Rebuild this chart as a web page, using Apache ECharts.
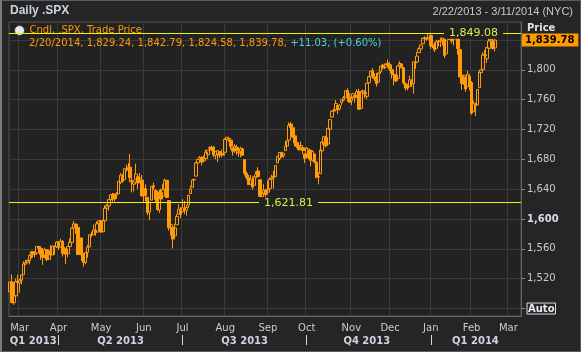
<!DOCTYPE html>
<html>
<head>
<meta charset="utf-8">
<script src="https://cdn.jsdelivr.net/npm/echarts@6/dist/echarts.min.js"></script>
<style>
  html, body { margin: 0; padding: 0; background: #252525; }
  #chart { position: absolute; left: 0; top: 0; width: 581px; height: 352px; }
  #frame { position: absolute; left: 0; top: 0; width: 581px; height: 352px; box-sizing: border-box;
           border: 1px solid #5c5c5c; border-left: 2px solid #7a7a7a; pointer-events: none; }
</style>
</head>
<body>
<div id="chart"></div>
<div id="frame"></div>
<script>
// daily bars: date, open, high, low, close
const bars = [
  ['2/22/2013',1502.42,1515.64,1502.42,1515.60],
  ['2/25/2013',1515.60,1525.84,1487.85,1487.85],
  ['2/26/2013',1487.85,1498.99,1485.01,1496.94],
  ['2/27/2013',1496.94,1520.08,1494.88,1515.99],
  ['2/28/2013',1515.99,1525.34,1514.46,1514.68],
  ['3/1/2013',1514.68,1519.99,1501.48,1518.20],
  ['3/4/2013',1518.20,1525.27,1512.29,1525.20],
  ['3/5/2013',1525.20,1543.47,1525.20,1539.79],
  ['3/6/2013',1539.79,1545.25,1538.11,1541.46],
  ['3/7/2013',1541.46,1545.78,1541.46,1544.26],
  ['3/8/2013',1544.26,1552.48,1539.19,1551.18],
  ['3/11/2013',1551.15,1556.27,1547.36,1556.22],
  ['3/12/2013',1556.22,1556.77,1548.24,1552.48],
  ['3/13/2013',1552.48,1556.39,1548.25,1554.52],
  ['3/14/2013',1554.52,1563.32,1554.52,1563.23],
  ['3/15/2013',1563.21,1563.62,1555.74,1560.70],
  ['3/18/2013',1560.70,1560.70,1545.13,1552.10],
  ['3/19/2013',1552.10,1557.25,1538.57,1548.34],
  ['3/20/2013',1548.34,1561.56,1548.34,1558.71],
  ['3/21/2013',1558.71,1558.71,1543.55,1545.80],
  ['3/22/2013',1545.90,1557.74,1545.90,1556.89],
  ['3/25/2013',1556.89,1564.91,1546.22,1551.69],
  ['3/26/2013',1551.69,1563.95,1551.69,1563.77],
  ['3/27/2013',1563.75,1564.07,1551.90,1562.85],
  ['3/28/2013',1562.86,1570.28,1561.08,1569.19],
  ['4/1/2013',1569.18,1570.57,1558.47,1562.17],
  ['4/2/2013',1562.17,1573.66,1562.17,1570.25],
  ['4/3/2013',1570.25,1571.47,1549.80,1553.69],
  ['4/4/2013',1553.69,1562.60,1552.52,1559.98],
  ['4/5/2013',1559.98,1559.98,1539.50,1553.28],
  ['4/8/2013',1553.26,1563.07,1548.63,1563.07],
  ['4/9/2013',1563.11,1573.89,1560.92,1568.61],
  ['4/10/2013',1568.61,1589.07,1568.61,1587.73],
  ['4/11/2013',1587.73,1597.35,1586.17,1593.37],
  ['4/12/2013',1593.30,1593.30,1579.97,1588.85],
  ['4/15/2013',1588.84,1588.84,1552.28,1552.36],
  ['4/16/2013',1552.36,1575.35,1552.36,1574.57],
  ['4/17/2013',1574.57,1574.57,1543.69,1552.01],
  ['4/18/2013',1552.03,1554.38,1536.03,1541.61],
  ['4/19/2013',1541.61,1555.89,1539.40,1555.25],
  ['4/22/2013',1555.25,1565.55,1548.19,1562.50],
  ['4/23/2013',1562.50,1579.58,1562.50,1578.78],
  ['4/24/2013',1578.78,1583.00,1575.80,1578.79],
  ['4/25/2013',1578.78,1592.64,1578.78,1585.16],
  ['4/26/2013',1585.16,1585.78,1577.56,1582.24],
  ['4/29/2013',1582.34,1596.65,1582.34,1593.61],
  ['4/30/2013',1593.58,1597.57,1586.50,1597.57],
  ['5/1/2013',1597.55,1597.55,1581.28,1582.70],
  ['5/2/2013',1582.77,1598.60,1582.77,1597.59],
  ['5/3/2013',1597.60,1618.46,1597.60,1614.42],
  ['5/6/2013',1614.40,1619.77,1614.21,1617.50],
  ['5/7/2013',1617.55,1626.03,1611.10,1625.96],
  ['5/8/2013',1625.95,1632.78,1622.70,1632.69],
  ['5/9/2013',1632.69,1635.01,1623.09,1626.67],
  ['5/10/2013',1626.69,1633.70,1623.71,1633.70],
  ['5/13/2013',1632.10,1636.00,1626.74,1633.77],
  ['5/14/2013',1633.75,1651.10,1633.75,1650.34],
  ['5/15/2013',1649.13,1661.49,1646.68,1658.78],
  ['5/16/2013',1658.07,1660.51,1648.60,1650.47],
  ['5/17/2013',1652.45,1667.47,1652.45,1667.47],
  ['5/20/2013',1665.71,1672.84,1663.52,1666.29],
  ['5/21/2013',1666.20,1674.93,1662.67,1669.16],
  ['5/22/2013',1669.39,1687.18,1648.86,1655.35],
  ['5/23/2013',1651.62,1655.50,1635.53,1650.51],
  ['5/24/2013',1646.67,1649.78,1636.88,1649.60],
  ['5/28/2013',1652.63,1674.21,1652.63,1660.06],
  ['5/29/2013',1656.57,1656.57,1640.05,1648.36],
  ['5/30/2013',1649.14,1661.91,1648.61,1654.41],
  ['5/31/2013',1652.13,1658.99,1630.74,1630.74],
  ['6/3/2013',1631.71,1640.42,1622.72,1640.42],
  ['6/4/2013',1640.73,1646.53,1623.62,1631.38],
  ['6/5/2013',1629.05,1629.31,1605.30,1608.90],
  ['6/6/2013',1609.29,1622.56,1598.23,1622.56],
  ['6/7/2013',1625.27,1644.40,1625.27,1643.38],
  ['6/10/2013',1644.67,1648.69,1639.26,1642.81],
  ['6/11/2013',1638.64,1640.13,1622.92,1626.13],
  ['6/12/2013',1629.94,1637.71,1610.92,1612.52],
  ['6/13/2013',1612.15,1639.25,1608.07,1636.36],
  ['6/14/2013',1635.52,1640.80,1623.96,1626.73],
  ['6/17/2013',1630.64,1646.50,1630.34,1639.04],
  ['6/18/2013',1639.77,1654.19,1639.77,1651.81],
  ['6/19/2013',1651.83,1652.45,1628.91,1628.93],
  ['6/20/2013',1624.62,1624.62,1584.32,1588.19],
  ['6/21/2013',1588.62,1599.19,1577.70,1592.43],
  ['6/24/2013',1588.77,1588.77,1560.33,1573.09],
  ['6/25/2013',1577.52,1593.79,1577.09,1588.03],
  ['6/26/2013',1592.27,1606.83,1592.27,1603.26],
  ['6/27/2013',1606.44,1620.07,1606.44,1613.20],
  ['6/28/2013',1611.12,1615.94,1601.06,1606.28],
  ['7/1/2013',1609.78,1626.61,1609.78,1614.96],
  ['7/2/2013',1614.29,1624.26,1606.77,1614.08],
  ['7/3/2013',1611.48,1618.97,1604.57,1615.41],
  ['7/5/2013',1618.65,1632.07,1614.71,1631.89],
  ['7/8/2013',1634.20,1644.68,1634.20,1640.46],
  ['7/9/2013',1642.89,1652.57,1642.89,1652.32],
  ['7/10/2013',1652.50,1654.18,1642.21,1652.62],
  ['7/11/2013',1657.41,1676.63,1657.41,1675.02],
  ['7/12/2013',1675.26,1680.19,1672.33,1680.19],
  ['7/15/2013',1679.59,1684.51,1677.89,1682.50],
  ['7/16/2013',1682.70,1683.73,1671.84,1676.26],
  ['7/17/2013',1677.91,1684.75,1677.91,1680.91],
  ['7/18/2013',1681.05,1693.12,1681.05,1689.37],
  ['7/19/2013',1686.15,1692.09,1684.08,1692.09],
  ['7/22/2013',1694.41,1697.61,1690.67,1695.53],
  ['7/23/2013',1696.06,1698.38,1691.13,1692.39],
  ['7/24/2013',1696.63,1696.81,1682.62,1685.94],
  ['7/25/2013',1685.21,1690.94,1680.07,1690.25],
  ['7/26/2013',1687.31,1691.85,1676.03,1691.65],
  ['7/29/2013',1690.32,1690.92,1681.86,1685.33],
  ['7/30/2013',1687.92,1693.19,1682.42,1685.96],
  ['7/31/2013',1687.76,1698.43,1684.94,1685.73],
  ['8/1/2013',1689.42,1707.85,1689.42,1706.87],
  ['8/2/2013',1706.10,1709.67,1700.68,1709.67],
  ['8/5/2013',1708.01,1709.24,1703.55,1707.14],
  ['8/6/2013',1705.79,1705.79,1693.29,1697.37],
  ['8/7/2013',1695.30,1695.30,1684.91,1690.91],
  ['8/8/2013',1693.35,1700.18,1688.38,1697.48],
  ['8/9/2013',1696.10,1699.42,1686.02,1691.42],
  ['8/12/2013',1688.37,1691.49,1683.35,1689.47],
  ['8/13/2013',1690.65,1696.81,1682.62,1694.16],
  ['8/14/2013',1693.88,1695.52,1684.83,1685.39],
  ['8/15/2013',1679.61,1679.61,1658.59,1661.32],
  ['8/16/2013',1661.22,1663.60,1652.61,1655.83],
  ['8/19/2013',1655.25,1659.18,1646.08,1646.06],
  ['8/20/2013',1646.81,1658.92,1646.08,1652.35],
  ['8/21/2013',1650.66,1656.99,1639.43,1642.80],
  ['8/22/2013',1645.03,1659.55,1645.03,1656.96],
  ['8/23/2013',1659.92,1664.85,1654.81,1663.50],
  ['8/26/2013',1664.29,1669.51,1656.02,1656.78],
  ['8/27/2013',1652.54,1652.54,1629.05,1630.48],
  ['8/28/2013',1630.25,1641.18,1627.47,1634.96],
  ['8/29/2013',1633.50,1646.41,1630.88,1638.17],
  ['8/30/2013',1638.89,1640.08,1628.05,1632.97],
  ['9/3/2013',1635.95,1651.35,1633.41,1639.77],
  ['9/4/2013',1640.72,1655.72,1637.41,1653.08],
  ['9/5/2013',1653.28,1659.17,1653.07,1655.08],
  ['9/6/2013',1657.44,1664.83,1640.62,1655.17],
  ['9/9/2013',1656.85,1672.40,1656.85,1671.71],
  ['9/10/2013',1675.11,1684.09,1675.11,1683.99],
  ['9/11/2013',1681.04,1689.13,1678.70,1689.13],
  ['9/12/2013',1689.21,1689.97,1681.96,1683.42],
  ['9/13/2013',1685.04,1688.73,1682.22,1687.99],
  ['9/16/2013',1691.70,1704.95,1691.70,1697.60],
  ['9/17/2013',1697.73,1705.52,1697.73,1704.76],
  ['9/18/2013',1705.74,1729.44,1700.35,1725.52],
  ['9/19/2013',1727.34,1729.86,1720.20,1722.34],
  ['9/20/2013',1722.44,1725.23,1708.89,1709.91],
  ['9/23/2013',1711.44,1711.44,1697.10,1701.84],
  ['9/24/2013',1702.60,1707.63,1694.90,1697.42],
  ['9/25/2013',1698.02,1701.71,1691.88,1692.77],
  ['9/26/2013',1694.05,1703.85,1693.11,1698.67],
  ['9/27/2013',1695.52,1695.52,1687.11,1691.75],
  ['9/30/2013',1687.26,1687.26,1674.99,1681.55],
  ['10/1/2013',1682.41,1696.55,1682.07,1695.00],
  ['10/2/2013',1691.90,1693.87,1680.34,1693.87],
  ['10/3/2013',1692.35,1692.35,1670.36,1678.66],
  ['10/4/2013',1678.79,1691.94,1677.33,1690.50],
  ['10/7/2013',1687.15,1687.15,1674.70,1676.12],
  ['10/8/2013',1676.22,1676.79,1655.03,1655.45],
  ['10/9/2013',1656.99,1662.47,1646.47,1656.40],
  ['10/10/2013',1660.88,1692.56,1660.88,1692.56],
  ['10/11/2013',1691.09,1703.44,1688.52,1703.20],
  ['10/14/2013',1699.86,1711.03,1692.13,1710.14],
  ['10/15/2013',1709.17,1711.57,1695.93,1698.06],
  ['10/16/2013',1700.49,1721.76,1700.49,1721.54],
  ['10/17/2013',1720.17,1733.45,1714.12,1733.15],
  ['10/18/2013',1736.72,1745.31,1735.74,1744.50],
  ['10/21/2013',1745.20,1747.79,1740.67,1744.66],
  ['10/22/2013',1746.48,1759.33,1746.48,1754.67],
  ['10/23/2013',1752.27,1752.27,1740.50,1746.38],
  ['10/24/2013',1747.48,1753.94,1745.50,1752.07],
  ['10/25/2013',1756.01,1759.82,1752.45,1759.77],
  ['10/28/2013',1759.42,1764.99,1757.67,1762.11],
  ['10/29/2013',1762.93,1772.09,1762.93,1771.95],
  ['10/30/2013',1772.27,1775.22,1757.24,1763.31],
  ['10/31/2013',1763.24,1768.53,1755.72,1756.54],
  ['11/1/2013',1758.70,1765.67,1752.70,1761.64],
  ['11/4/2013',1763.40,1768.78,1761.56,1767.93],
  ['11/5/2013',1765.67,1767.03,1755.76,1762.97],
  ['11/6/2013',1765.00,1773.74,1764.40,1770.49],
  ['11/7/2013',1770.74,1774.54,1746.20,1747.15],
  ['11/8/2013',1748.37,1770.78,1747.63,1770.61],
  ['11/11/2013',1769.96,1773.44,1767.85,1771.89],
  ['11/12/2013',1769.51,1771.78,1762.29,1767.69],
  ['11/13/2013',1764.37,1782.00,1760.64,1782.00],
  ['11/14/2013',1782.75,1791.53,1780.22,1790.62],
  ['11/15/2013',1790.66,1798.22,1790.66,1798.18],
  ['11/18/2013',1798.82,1802.33,1788.00,1791.53],
  ['11/19/2013',1790.79,1795.51,1784.72,1787.87],
  ['11/20/2013',1789.59,1795.73,1777.23,1781.37],
  ['11/21/2013',1783.52,1797.16,1783.52,1795.85],
  ['11/22/2013',1797.21,1804.84,1794.70,1804.76],
  ['11/25/2013',1806.33,1808.10,1800.58,1802.48],
  ['11/26/2013',1802.87,1808.42,1800.77,1802.75],
  ['11/27/2013',1803.48,1808.27,1802.77,1807.23],
  ['11/29/2013',1808.69,1813.55,1803.98,1805.81],
  ['12/2/2013',1806.55,1810.02,1798.60,1800.90],
  ['12/3/2013',1800.10,1800.10,1787.85,1795.15],
  ['12/4/2013',1794.08,1799.80,1779.09,1792.81],
  ['12/5/2013',1792.82,1792.82,1783.38,1785.03],
  ['12/6/2013',1788.36,1806.04,1788.36,1805.09],
  ['12/9/2013',1806.21,1811.52,1806.21,1808.37],
  ['12/10/2013',1807.60,1808.52,1801.75,1802.62],
  ['12/11/2013',1802.76,1802.97,1780.09,1782.22],
  ['12/12/2013',1781.71,1782.99,1772.28,1775.50],
  ['12/13/2013',1777.98,1780.92,1772.45,1775.32],
  ['12/16/2013',1777.48,1792.22,1777.48,1786.54],
  ['12/17/2013',1786.47,1786.77,1777.05,1781.00],
  ['12/18/2013',1781.46,1811.08,1767.99,1810.65],
  ['12/19/2013',1809.00,1810.88,1801.35,1809.60],
  ['12/20/2013',1810.39,1823.75,1810.25,1818.32],
  ['12/23/2013',1822.92,1829.75,1822.92,1827.99],
  ['12/24/2013',1828.02,1833.32,1828.02,1833.32],
  ['12/26/2013',1834.96,1842.84,1834.96,1842.02],
  ['12/27/2013',1842.97,1844.89,1839.81,1841.40],
  ['12/30/2013',1841.47,1842.47,1838.77,1841.07],
  ['12/31/2013',1842.61,1849.44,1842.41,1848.36],
  ['1/2/2014',1845.86,1845.86,1827.74,1831.98],
  ['1/3/2014',1833.21,1838.24,1829.13,1831.37],
  ['1/6/2014',1832.31,1837.16,1823.73,1826.77],
  ['1/7/2014',1828.71,1840.10,1828.71,1837.88],
  ['1/8/2014',1837.90,1840.02,1831.40,1837.49],
  ['1/9/2014',1839.00,1843.23,1830.38,1838.13],
  ['1/10/2014',1840.06,1843.15,1832.43,1842.37],
  ['1/13/2014',1841.26,1843.45,1815.52,1819.20],
  ['1/14/2014',1821.36,1839.26,1821.36,1838.88],
  ['1/15/2014',1840.52,1850.84,1840.52,1848.38],
  ['1/16/2014',1847.99,1847.99,1840.30,1845.89],
  ['1/17/2014',1844.23,1846.04,1835.23,1838.70],
  ['1/21/2014',1841.05,1849.31,1832.38,1843.80],
  ['1/22/2014',1844.71,1846.87,1840.88,1844.86],
  ['1/23/2014',1842.29,1842.29,1820.06,1828.46],
  ['1/24/2014',1826.96,1826.96,1790.29,1790.29],
  ['1/27/2014',1791.03,1795.98,1772.88,1781.56],
  ['1/28/2014',1783.00,1793.87,1779.49,1792.50],
  ['1/29/2014',1790.15,1790.15,1770.45,1774.20],
  ['1/30/2014',1777.17,1798.77,1777.17,1794.19],
  ['1/31/2014',1790.88,1793.88,1772.26,1782.59],
  ['2/3/2014',1782.68,1784.83,1739.66,1741.89],
  ['2/4/2014',1743.82,1758.73,1743.82,1755.20],
  ['2/5/2014',1753.38,1755.79,1737.92,1751.64],
  ['2/6/2014',1752.99,1774.06,1752.99,1773.43],
  ['2/7/2014',1776.01,1798.03,1776.01,1797.02],
  ['2/10/2014',1796.20,1799.94,1791.83,1799.84],
  ['2/11/2014',1800.45,1823.54,1800.41,1819.75],
  ['2/12/2014',1820.12,1826.55,1815.97,1819.26],
  ['2/13/2014',1814.82,1830.25,1809.22,1829.83],
  ['2/14/2014',1828.46,1841.65,1825.59,1838.63],
  ['2/18/2014',1838.76,1843.25,1835.07,1840.76],
  ['2/19/2014',1838.22,1847.50,1826.99,1828.75],
  ['2/20/2014',1829.24,1842.79,1824.58,1839.78]
];
// empty trading days to the end of the range
const futureDates = ['2/21/2014','2/24/2014','2/25/2014','2/26/2014','2/27/2014','2/28/2014',
  '3/3/2014','3/4/2014','3/5/2014','3/6/2014','3/7/2014','3/10/2014','3/11/2014'];

const yTicks = [1480, 1520, 1560, 1600, 1640, 1680, 1720, 1760, 1800, 1840];
const yLabels = [1480, 1520, 1560, 1600, 1640, 1680, 1720, 1760, 1800];
const refLines = [1849.08, 1621.81];
const quarterLabels = {
  '3/12/2013': 'Q1 2013', '5/15/2013': 'Q2 2013', '8/15/2013': 'Q3 2013',
  '11/13/2013': 'Q4 2013', '2/5/2014': 'Q1 2014'
};
const MONTHS = ['Jan','Feb','Mar','Apr','May','Jun','Jul','Aug','Sep','Oct','Nov','Dec'];

const ORANGE = '#ff9a0a';
const TXT = '#c6ccd6';
const dates = bars.map(b => b[0]).concat(futureDates);
const month = d => +d.split('/')[0];
const isMonthStart = i => i > 0 && month(dates[i]) !== month(dates[i - 1]);
const isQuarterStart = i => isMonthStart(i) && (month(dates[i]) % 3 === 1);
const fmt = v => v.toLocaleString('en-US', { minimumFractionDigits: 2, maximumFractionDigits: 2 });

const last = bars[bars.length - 1];
const prev = bars[bars.length - 2];
const chg = last[4] - prev[4];
const pct = chg / prev[4] * 100;
const infoText = '{o|' + last[0] + ', ' + fmt(last[1]) + ', ' + fmt(last[2]) + ', ' + fmt(last[3]) + ', ' + fmt(last[4]) + ', }' +
  '{c|' + (chg >= 0 ? '+' : '') + fmt(chg) + ', (' + (pct >= 0 ? '+' : '') + pct.toFixed(2) + '%)}';

const chart = echarts.init(document.getElementById('chart'));
chart.setOption({
  animation: false,
  backgroundColor: '#252525',
  textStyle: { fontFamily: 'DejaVu Sans' },
  title: [
    { text: 'Daily .SPX', left: 10, top: 5, padding: 0,
      textStyle: { color: '#c9d3e2', fontSize: 12, fontWeight: 'bold', fontFamily: 'Liberation Sans' } },
    { text: '2/22/2013 - 3/11/2014 (NYC)', right: 8, top: 6, padding: 0,
      textStyle: { color: '#c4c8d0', fontSize: 11, fontWeight: 'normal', fontFamily: 'Liberation Sans' } },
    { text: infoText, left: 29, top: 38, padding: 0,
      textStyle: { fontSize: 10, fontWeight: 'normal',
        rich: { o: { color: ORANGE, fontSize: 10 }, c: { color: '#45d4df', fontSize: 10 } } } }
  ],
  legend: {
    left: 14, top: 25, padding: 0, itemWidth: 10, itemHeight: 10, selectedMode: false,
    textStyle: { color: ORANGE, fontSize: 10 },
    data: [{ name: 'Cndl, .SPX, Trade Price', icon: 'circle',
      itemStyle: { color: '#e4e9f0', borderColor: '#333', borderWidth: 1 } }]
  },
  grid: { left: 9, right: 60, top: 22, bottom: 36, show: true,
    backgroundColor: '#222222', borderColor: '#555', borderWidth: 1 },
  xAxis: [
    {
      type: 'category', data: dates, boundaryGap: true,
      axisLine: { lineStyle: { color: '#666' } },
      axisTick: { interval: isMonthStart, alignWithLabel: true, length: 4, lineStyle: { color: '#888' } },
      axisLabel: { interval: isMonthStart, formatter: v => MONTHS[month(v) - 1],
        color: TXT, fontSize: 10, margin: 7 },
      splitLine: { show: true, interval: isMonthStart, lineStyle: { color: '#3a3a3a' } }
    },
    {
      type: 'category', data: dates, boundaryGap: true, position: 'bottom', offset: 19,
      axisLine: { show: false },
      axisTick: { show: true, interval: isQuarterStart, alignWithLabel: true, length: 10,
        lineStyle: { color: '#d0d4da' } },
      axisLabel: { interval: (i, v) => !!quarterLabels[v], formatter: v => quarterLabels[v] || '',
        color: '#ccd4e0', fontSize: 10, fontWeight: 'bold', margin: 1 },
      splitLine: { show: false }
    }
  ],
  yAxis: {
    type: 'value', position: 'right', min: 1470, max: 1864,
    name: 'Price', nameLocation: 'end', nameGap: -6,
    nameTextStyle: { color: '#dde2ea', fontSize: 10, fontWeight: 'bold', align: 'left',
      verticalAlign: 'middle', padding: [0, 0, 0, 6] },
    axisLine: { show: true, lineStyle: { color: '#666' } },
    axisTick: { show: true, customValues: yTicks, length: 4, lineStyle: { color: '#888' } },
    axisLabel: {
      customValues: yLabels, color: TXT, fontSize: 10, margin: 6,
      formatter: v => v === 1480 ? '{auto|Auto}' : (v === 1600 ? '{b|1,600}' : v.toLocaleString('en-US')),
      rich: {
        auto: { color: '#e6ecf4', fontWeight: 'bold', fontSize: 10, borderColor: '#d8dde4',
          borderWidth: 1, padding: [1, 1, 0, 1] },
        b: { color: '#d6dce6', fontWeight: 'bold', fontSize: 10 }
      }
    },
    splitLine: { show: true, lineStyle: { color: '#3a3a3a' } }
  },
  series: [{
    name: 'Cndl, .SPX, Trade Price',
    type: 'candlestick',
    barWidth: 3,
    data: bars.map(b => [b[1], b[4], b[3], b[2]]),
    itemStyle: { color: 'rgba(0,0,0,0)', color0: ORANGE, borderColor: ORANGE,
      borderColor0: ORANGE, borderWidth: 1 },
    markLine: {
      symbol: ['none', 'none'], silent: true,
      data: [
        { yAxis: refLines[0], lineStyle: { color: '#f2f200', width: 1, type: 'solid' },
          label: { position: 'insideStart', distance: [435, 0], formatter: p => fmt(p.value),
            color: '#dfe94f', fontSize: 11, backgroundColor: '#222222', padding: [0, 5] } },
        { yAxis: refLines[1], lineStyle: { color: '#f2f200', width: 1, type: 'solid' },
          label: { position: 'insideStart', distance: [250, 0], formatter: p => fmt(p.value),
            color: '#dfe94f', fontSize: 11, backgroundColor: '#222222', padding: [0, 5] } },
        { yAxis: last[4], lineStyle: { color: 'rgba(0,0,0,0)', width: 1 },
          label: { show: true, position: 'end', distance: [1, 0], formatter: p => fmt(p.value),
            color: '#000', fontWeight: 'bold', fontSize: 10, backgroundColor: '#ff9a00',
            padding: [2, 4, 1, 3] } }
      ]
    }
  }]
});
</script>
</body>
</html>
